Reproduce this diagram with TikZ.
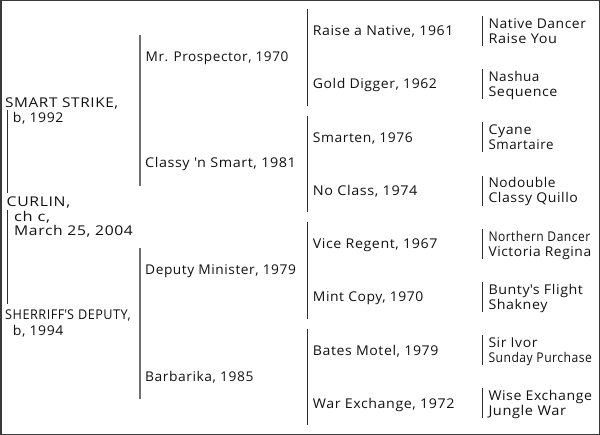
\documentclass[tikz,border=0pt]{standalone}
\usepackage{fontspec}
\usepackage{graphicx}
\setmainfont{Open Sans}[LetterSpace=4]
\definecolor{ink}{HTML}{111111}
\definecolor{frame}{HTML}{3A3A3A}
\definecolor{barA}{HTML}{2E2E2E}
\definecolor{barB}{HTML}{707070}
\newcommand{\fitw}[2]{\resizebox{#1bp}{\height}{#2}}
\newcommand{\sq}{\textquotesingle}
\tikzset{
  txt/.style={anchor=base west, inner sep=0pt, text=ink, font=\fontsize{13.5}{15}\selectfont},
  bar/.style={draw=barA, line width=1.1bp},
  barg/.style={draw=barB, line width=1.1bp},
}
\begin{document}
\begin{tikzpicture}[x=1bp,y=-1bp]
\useasboundingbox (0,0) rectangle (600,435);
\draw[frame, line width=1.5bp] (0.75,0.75) rectangle (599.25,434.25);

% column 1
\node[txt] (ss1) at (5,108) {\fitw{113}{SMART STRIKE,}};
\node[txt] (ss2) at (12.7,123) {\fitw{50.5}{b, 1992}};
\node[txt] (cu1) at (6.5,207) {\fitw{63.5}{CURLIN,}};
\node[txt] (cu2) at (14,221.5) {\fitw{36}{ch c,}};
\node[txt] (cu3) at (14,236) {\fitw{118.7}{March 25, 2004}};
\node[txt] (sd1) at (5,320) {\fitw{125.5}{SHERRIFF\sq S DEPUTY,}};
\node[txt] (sd2) at (12.7,335) {\fitw{50.5}{b, 1994}};
\coordinate (c1a) at (7.3,110);
\coordinate (c1b) at (7.3,193);
\coordinate (c1c) at (7.3,210);
\coordinate (c1d) at (7.3,304);
\draw[bar] (c1a) -- (c1b);
\draw[bar] (c1c) -- (c1d);

% column 2
\node[txt] (g1) at (145.5,61.5) {\fitw{142.7}{Mr. Prospector, 1970}};
\node[txt] (g2) at (145,168) {\fitw{150.7}{Classy \sq n Smart, 1981}};
\node[txt] (g3) at (145,275) {\fitw{150.7}{Deputy Minister, 1979}};
\node[txt] (g4) at (145,381) {\fitw{108.3}{Barbarika, 1985}};
\coordinate (c2a) at (140,35.5);
\coordinate (c2b) at (140,186.5);
\coordinate (c2c) at (140,248);
\coordinate (c2d) at (140,399);
\draw[barg] (c2a) -- (c2b);
\draw[barg] (c2c) -- (c2d);

% column 3
\foreach \i/\w/\t in {0/140.5/{Raise a Native, 1961},1/124/{Gold Digger, 1962},2/100/{Smarten, 1976},3/104.5/{No Class, 1974},4/124.5/{Vice Regent, 1967},5/110.5/{Mint Copy, 1970},6/125.5/{Bates Motel, 1979},7/141.5/{War Exchange, 1972}}{
  \node[txt] (p\i) at (312.7,{35.8+53.2*\i}) {\fitw{\w}{\t}};
}
\foreach \i in {0,1,2,3}{
  \coordinate (b3s\i) at (307.3,{9.5+106.4*\i});
  \coordinate (b3e\i) at (307.3,{106+106.4*\i});
  \draw[bar] (b3s\i) -- (b3e\i);
}

% column 4
\foreach \i/\wa/\ta/\wb/\tb in {0/97.5/{Native Dancer}/68.5/{Raise You},1/51/{Nashua}/69/{Sequence},2/43/{Cyane}/65/{Smartaire},3/67/{Nodouble}/89.5/{Classy Quillo},4/101.7/{Northern Dancer}/102.7/{Victoria Regina},5/94.5/{Bunty\sq s Flight}/59/{Shakney},6/49/{Sir Ivor}/103.5/{Sunday Purchase},7/103.5/{Wise Exchange}/77.5/{Jungle War}}{
  \node[txt] (q\i a) at (488.3,{28.3+53.2*\i}) {\fitw{\wa}{\ta}};
  \node[txt] (q\i b) at (488.3,{43.3+53.2*\i}) {\fitw{\wb}{\tb}};
  \coordinate (b4s\i) at (482.7,{16+53.2*\i});
  \coordinate (b4e\i) at (482.7,{46+53.2*\i});
  \draw[bar] (b4s\i) -- (b4e\i);
}
\end{tikzpicture}
\end{document}
